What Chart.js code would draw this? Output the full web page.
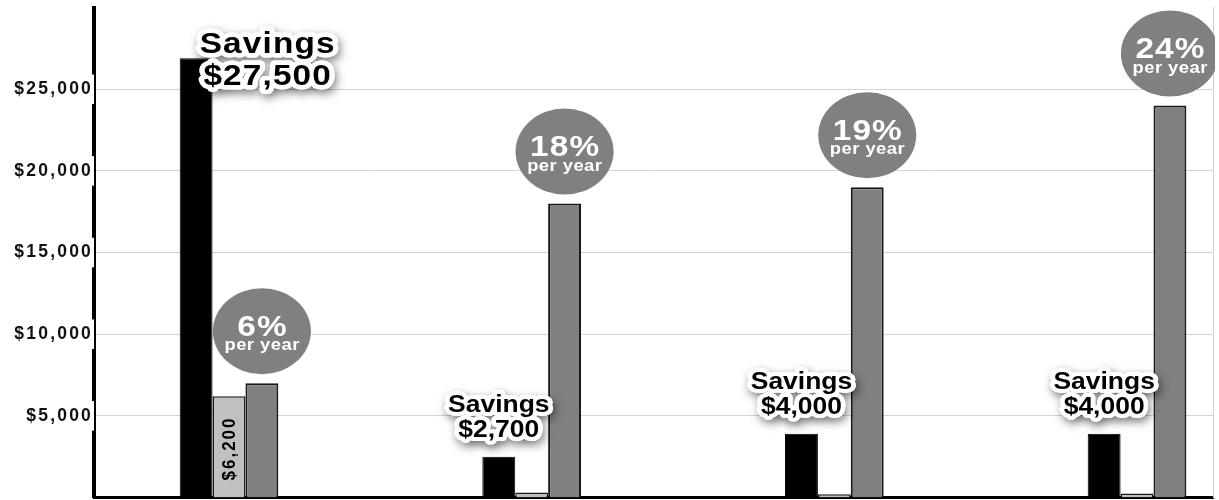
<!DOCTYPE html>
<html>
<head>
<meta charset="utf-8">
<script src="https://cdn.jsdelivr.net/npm/chart.js@4.4.1/dist/chart.umd.min.js"></script>
<style>
  html, body { margin: 0; padding: 0; background: #ffffff; }
  #wrap { width: 1219px; height: 500px; }
</style>
</head>
<body>
<div id="wrap"><canvas id="c" width="1219" height="500"></canvas></div>
<script>
// ---- data ----
const categories = ['Option 1', 'Option 2', 'Option 3', 'Option 4'];
const savingsValues = [26900, 2500, 3900, 3900];
const middleValues = [6200, 300, 200, 250];
const rateValues = [7000, 18000, 19000, 24000];
const savingsText = ['$27,500', '$2,700', '$4,000', '$4,000'];
const middleText = ['$6,200', '', '', ''];
const rateText = ['6%', '18%', '19%', '24%'];
const yTicks = [0, 5000, 10000, 15000, 20000, 25000, 30000];
const yTickLabels = ['', '$5,000', '$10,000', '$15,000', '$20,000', '$25,000', ''];

// ---- style / layout ----
const FONT = "'Liberation Sans', Arial, Helvetica, sans-serif";
const BLACK = '#000000';
const LIGHT = '#c0c0c0';
const DARK = '#808080';
const STRETCH = 1.15;
// first group's savings label sits to the right of its bar, at the top
const savingsLayout = [
  { big: true, dx: 71, base2: 27 },
  { big: false, dx: 0, base2: -20 },
  { big: false, dx: 0, base2: -20 },
  { big: false, dx: 0, base2: -20 }
];

const toPoints = vals => vals.map((v, i) => ({ x: i, y: v }));

function drawHaloText(ctx, lines, cx, baselines, size, spacing) {
  ctx.save();
  ctx.translate(cx, 0);
  ctx.scale(STRETCH, 1);
  ctx.font = `bold ${size}px ${FONT}`;
  ctx.letterSpacing = spacing + 'px';
  ctx.textAlign = 'center';
  ctx.textBaseline = 'alphabetic';
  ctx.lineJoin = 'round';
  ctx.lineWidth = size > 25 ? 9 : 8;
  ctx.strokeStyle = '#ffffff';
  ctx.shadowColor = 'rgba(0,0,0,0.5)';
  ctx.shadowBlur = 10;
  ctx.shadowOffsetX = 2;
  ctx.shadowOffsetY = 4;
  lines.forEach((t, k) => ctx.strokeText(t, spacing / 2, baselines[k]));
  ctx.shadowColor = 'transparent';
  lines.forEach((t, k) => ctx.strokeText(t, spacing / 2, baselines[k]));
  ctx.fillStyle = '#000000';
  lines.forEach((t, k) => ctx.fillText(t, spacing / 2, baselines[k]));
  ctx.restore();
}

const spacingPlugin = {
  id: 'tickSpacing',
  beforeUpdate(chart) { chart.ctx.letterSpacing = '2.2px'; },
  beforeDraw(chart) { chart.ctx.letterSpacing = '2.2px'; }
};

const annotations = {
  id: 'annotations',
  afterDatasetsDraw(chart) {
    const ctx = chart.ctx;
    const area = chart.chartArea;
    const mSav = chart.getDatasetMeta(0);
    const mMid = chart.getDatasetMeta(1);
    const mRate = chart.getDatasetMeta(2);
    categories.forEach((c, i) => {
      // rate ellipses
      const rb = mRate.data[i];
      const cx = rb.x, cy = rb.y - 52;
      ctx.save();
      ctx.beginPath();
      ctx.rect(area.left, 0, area.right - area.left + 2, chart.height);
      ctx.clip();
      ctx.beginPath();
      ctx.ellipse(cx, cy, 49, 43, 0, 0, Math.PI * 2);
      ctx.fillStyle = DARK;
      ctx.fill();
      ctx.translate(cx, 0);
      ctx.scale(STRETCH, 1);
      ctx.fillStyle = '#ffffff';
      ctx.textAlign = 'center';
      ctx.textBaseline = 'alphabetic';
      ctx.font = `bold 29px ${FONT}`;
      ctx.letterSpacing = '1px';
      ctx.fillText(rateText[i], 0.5, cy + 4.5);
      ctx.font = `bold 16px ${FONT}`;
      ctx.letterSpacing = '0.4px';
      ctx.fillText('per year', 0.2, cy + 19);
      ctx.restore();

      // savings labels
      const sb = mSav.data[i];
      const L = savingsLayout[i];
      const size = L.big ? 29 : 23;
      const sp = L.big ? 1 : 0;
      const gap = L.big ? 32 : 25;
      const b2 = sb.y + L.base2;
      drawHaloText(ctx, ['Savings', savingsText[i]], sb.x + L.dx, [b2 - gap, b2], size, sp);

      // rotated value inside middle bar
      if (middleText[i]) {
        const mb = mMid.data[i];
        ctx.save();
        ctx.translate(mb.x + 1, mb.base - 17);
        ctx.rotate(-Math.PI / 2);
        ctx.scale(1, 1.1);
        ctx.font = `bold 17px ${FONT}`;
        ctx.letterSpacing = '2px';
        ctx.fillStyle = '#000000';
        ctx.textAlign = 'left';
        ctx.textBaseline = 'middle';
        ctx.fillText(middleText[i], 0, 0);
        ctx.restore();
      }
    });
  }
};

new Chart(document.getElementById('c'), {
  type: 'bar',
  data: {
    datasets: [
      { label: 'Savings', data: toPoints(savingsValues), backgroundColor: BLACK, borderColor: BLACK, borderWidth: 1 },
      { label: 'Series B', data: toPoints(middleValues), backgroundColor: LIGHT, borderColor: '#1a1a1a', borderWidth: 1.5 },
      { label: 'Series C', data: toPoints(rateValues), backgroundColor: DARK, borderColor: '#1a1a1a', borderWidth: 2 }
    ]
  },
  options: {
    responsive: false,
    devicePixelRatio: 1,
    animation: false,
    layout: { padding: { left: 0, right: 6, top: 7.6, bottom: 2.5 } },
    datasets: { bar: { categoryPercentage: 0.326, barPercentage: 1 } },
    plugins: { legend: { display: false }, tooltip: { enabled: false } },
    scales: {
      x: {
        type: 'linear',
        offset: false,
        min: -0.446,
        max: 3.251,
        afterBuildTicks(scale) { scale.ticks = categories.map((c, i) => ({ value: i })); },
        ticks: { display: false },
        grid: { display: false, drawTicks: false },
        border: { display: true, color: '#000000', width: 3 }
      },
      y: {
        position: 'left',
        min: 0,
        max: 30000,
        afterBuildTicks(scale) { scale.ticks = yTicks.map(v => ({ value: v })); },
        afterFit(scale) {
          scale.width = 94;
          scale.paddingTop = 0;
          scale.paddingBottom = 0;
        },
        ticks: {
          callback(value) {
            const k = yTicks.indexOf(value);
            const s = k >= 0 ? yTickLabels[k] : '';
            return s === '' ? null : s;
          },
          color: '#111111',
          font: { family: FONT, size: 17.5, weight: 'bold', lineHeight: 1.0 },
          padding: 1,
          showLabelBackdrop: true,
          backdropColor: '#ffffff',
          backdropPadding: { top: 6, bottom: 6, left: 2, right: 9 }
        },
        grid: { color: '#d4d4d4', lineWidth: 1, drawTicks: false },
        border: { display: true, color: '#000000', width: 4 }
      },
      yRight: {
        position: 'right',
        min: 0,
        max: 30000,
        ticks: { display: false },
        grid: { display: false, drawTicks: false },
        border: { display: true, color: '#d0d0d0', width: 1 }
      }
    }
  },
  plugins: [spacingPlugin, annotations]
});
</script>
</body>
</html>
